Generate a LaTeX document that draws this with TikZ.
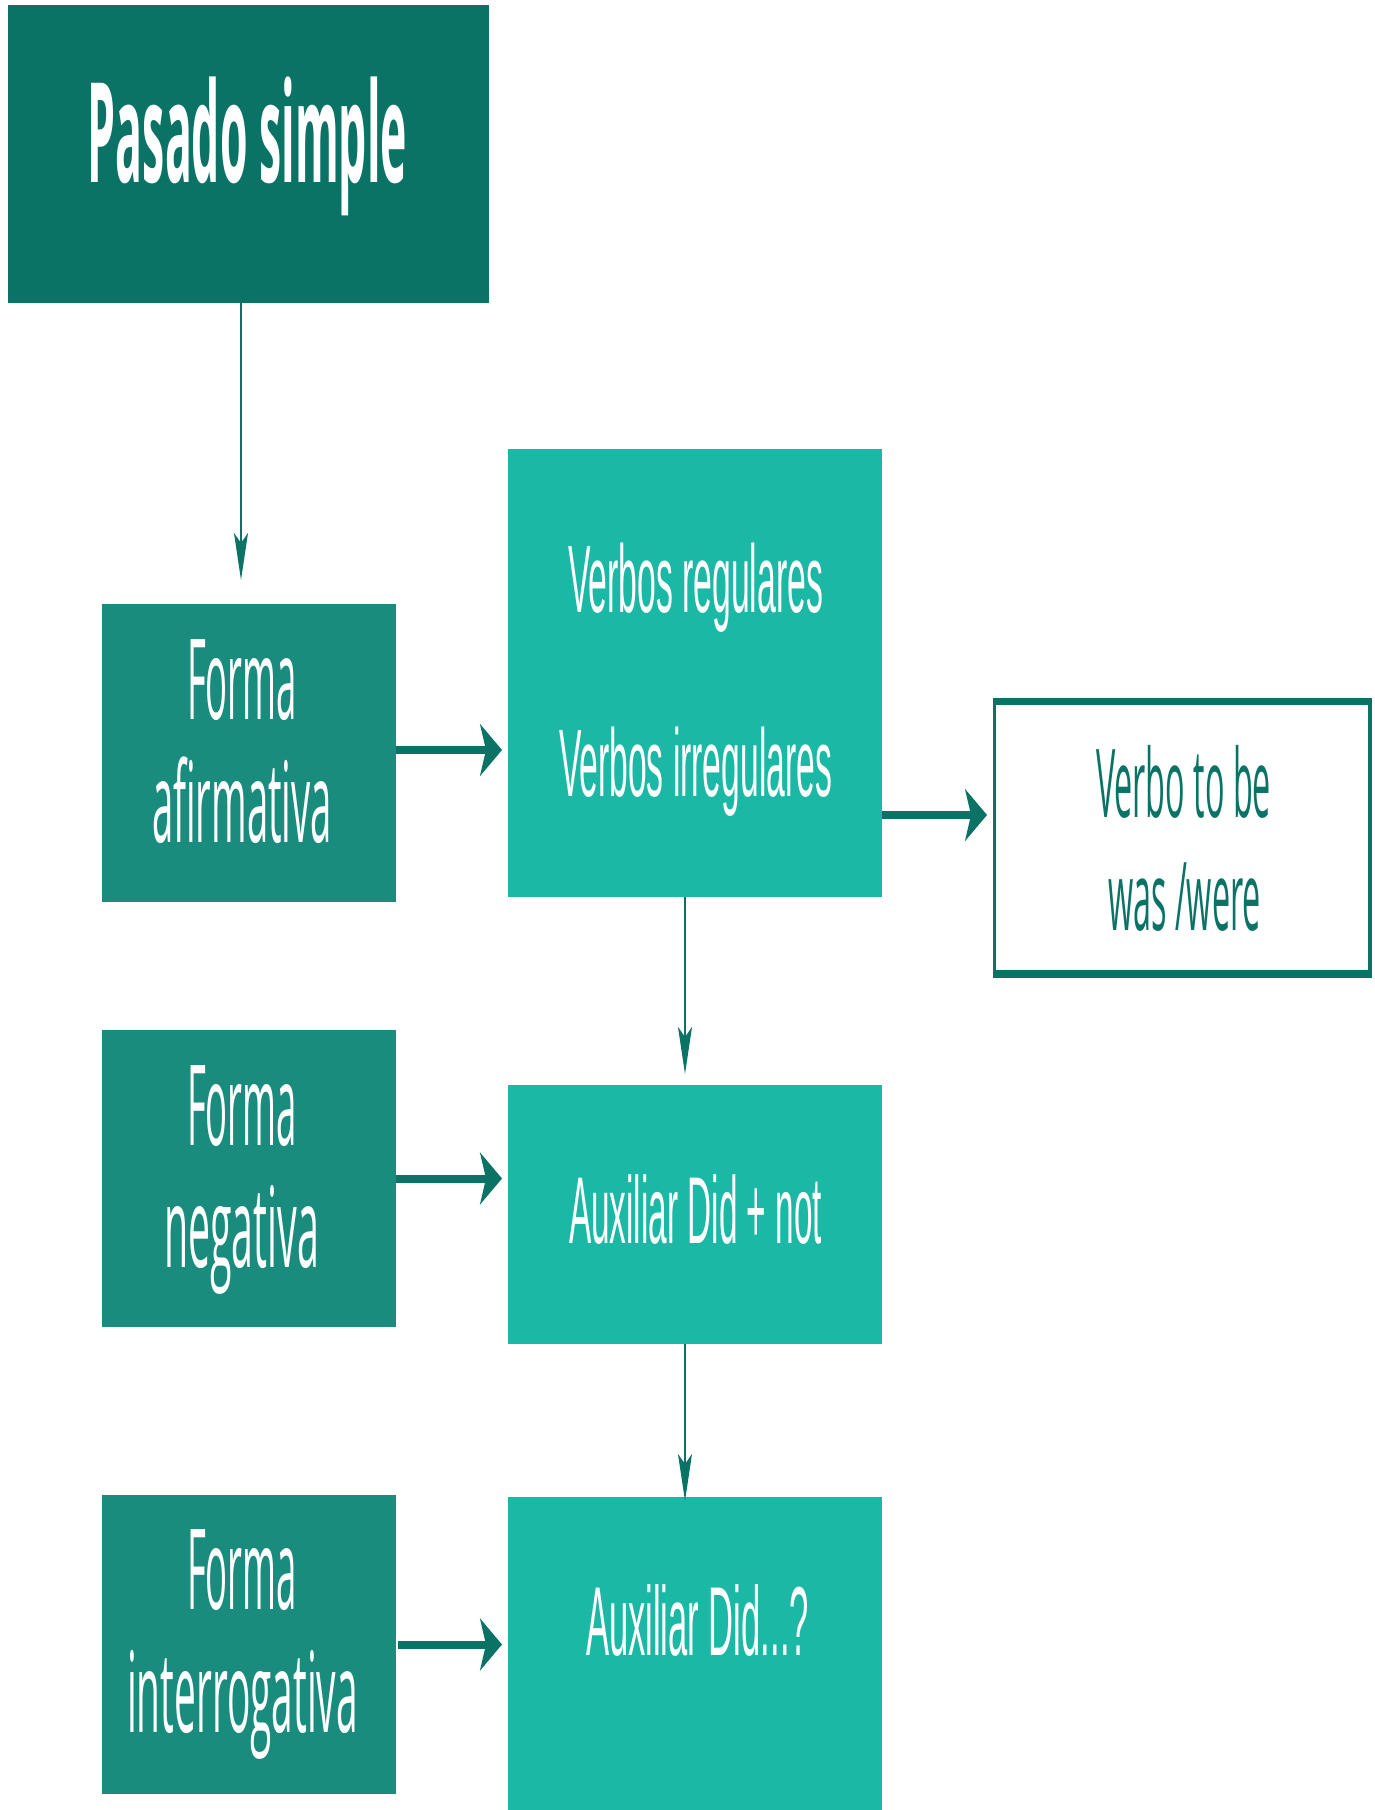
\documentclass[tikz,border=0pt]{standalone}
\usepackage{fontspec}
\setmainfont{Open Sans}
\newfontfamily\arialf{Liberation Sans}
\usetikzlibrary{arrows.meta}
\definecolor{dk}{HTML}{0B7366}
\definecolor{md}{HTML}{1A8C7E}
\definecolor{lt}{HTML}{1BB9A5}
\newcommand\fitw[2]{\resizebox{#1}{\height}{#2}}
\begin{document}
\begin{tikzpicture}[x=1pt,y=-1pt,
  box/.style={rectangle, inner sep=0pt, outer sep=0pt, draw=none},
  txt/.style={anchor=base, inner sep=0pt, outer sep=0pt, text=white},
  thickarrow/.style={draw=dk, line width=8pt, -{Stealth[length=22pt,width=52pt,inset=6pt]}},
  thinarrow/.style={draw=dk, line width=2pt, -{Stealth[length=47pt,width=14pt,inset=10pt]}}]
\useasboundingbox (0,0) rectangle (1375,1810);
\fill[white] (0,0) rectangle (1375,1810);

% boxes
\node[box, fill=dk, minimum width=481pt, minimum height=298pt] (pasado) at (248.5,154) {};
\node[box, fill=md, minimum width=294pt, minimum height=298pt] (afirm) at (249,753) {};
\node[box, fill=md, minimum width=294pt, minimum height=297pt] (negat) at (249,1178.5) {};
\node[box, fill=md, minimum width=294pt, minimum height=299pt] (interrog) at (249,1644.5) {};
\node[box, fill=lt, minimum width=374pt, minimum height=448pt] (verbos) at (695,673) {};
\node[box, fill=lt, minimum width=374pt, minimum height=259pt] (didnot) at (695,1214.5) {};
\node[box, fill=lt, minimum width=374pt, minimum height=313pt] (didq) at (695,1653.5) {};
\node[box, fill=dk, minimum width=379pt, minimum height=280pt] (tobe) at (1182.5,838) {};
\node[box, fill=white, minimum width=372pt, minimum height=265pt] (tobein) at (1182,837.5) {};

% texts
\node[txt] (tpasado) at (247.5,182) {\fontsize{139pt}{160pt}\selectfont\bfseries\fitw{319pt}{Pasado simple}};
\node[txt] (taf1) at (242,719) {\fontsize{112pt}{130pt}\selectfont\fitw{110pt}{Forma}};
\node[txt] (taf2) at (242,842) {\fontsize{112pt}{130pt}\selectfont\fitw{180pt}{afirmativa}};
\node[txt] (tne1) at (242,1145) {\fontsize{112pt}{130pt}\selectfont\fitw{110pt}{Forma}};
\node[txt] (tne2) at (241.5,1267) {\fontsize{112pt}{130pt}\selectfont\fitw{155pt}{negativa}};
\node[txt] (tin1) at (242,1609) {\fontsize{112pt}{130pt}\selectfont\fitw{110pt}{Forma}};
\node[txt] (tin2) at (242.5,1732) {\fontsize{112pt}{130pt}\selectfont\fitw{231pt}{interrogativa}};
\node[txt] (tvr) at (695.5,612) {\arialf\fontsize{96pt}{110pt}\selectfont\fitw{255pt}{Verbos regulares}};
\node[txt] (tvi) at (695.5,796) {\arialf\fontsize{96pt}{110pt}\selectfont\fitw{273pt}{Verbos irregulares}};
\node[txt] (tdn) at (695.5,1243) {\arialf\fontsize{95pt}{110pt}\selectfont\fitw{253pt}{Auxiliar Did + not}};
\node[txt] (tdq) at (697.5,1655) {\arialf\fontsize{98pt}{110pt}\selectfont\fitw{223pt}{Auxiliar Did...?}};
\node[txt, text=dk] (ttb1) at (1183.5,817) {\fontsize{95pt}{110pt}\selectfont\fitw{175pt}{Verbo to be}};
\node[txt, text=dk] (ttb2) at (1184.5,930) {\fontsize{95pt}{110pt}\selectfont\fitw{153pt}{was /were}};

% connectors
\draw[thinarrow] ([xshift=-7.5pt]pasado.south) -- ([xshift=-8pt,yshift=24pt]afirm.north);
\draw[thickarrow] ([yshift=3pt]afirm.east) coordinate (p1) -- ([xshift=-6pt]verbos.west |- p1);
\draw[thickarrow] ([yshift=-142pt]verbos.east) coordinate (p2) -- ([xshift=-6pt]tobe.west |- p2);
\draw[thinarrow] ([xshift=-10pt]verbos.south) coordinate (p3) -- ([yshift=11pt]didnot.north -| p3);
\draw[thickarrow] (negat.east) -- ([xshift=-6pt]didnot.west |- negat.east);
\draw[thinarrow] ([xshift=-10pt]didnot.south) coordinate (p4) -- ([yshift=-4pt]didq.north -| p4);
\draw[thickarrow] ([xshift=2pt]interrog.east) -- ([xshift=-6pt]didq.west |- interrog.east);
\end{tikzpicture}
\end{document}
